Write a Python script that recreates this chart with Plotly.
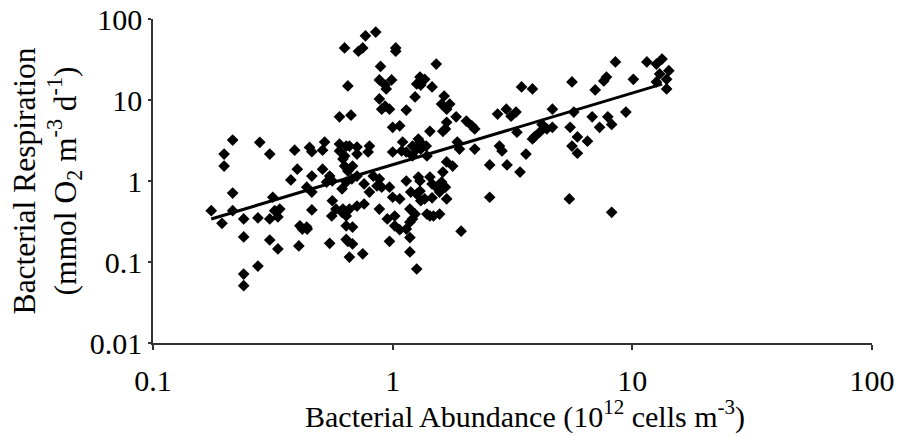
import plotly.graph_objects as go

# Bacterial abundance (10^12 cells m^-3)
abundance = [
    0.175, 0.194, 0.198, 0.198, 0.215, 0.215, 0.215, 0.239, 0.239, 0.239, 0.239,
    0.274, 0.274, 0.279, 0.307, 0.307, 0.307, 0.316, 0.322, 0.332, 0.338, 0.332,
    0.376, 0.39, 0.40, 0.406, 0.42, 0.44, 0.438, 0.41, 0.438, 0.45, 0.46, 0.46,
    0.46, 0.46, 0.51, 0.52, 0.51, 0.53, 0.546, 0.56, 0.56, 0.58, 0.546, 0.557,
    0.60, 0.60, 0.60, 0.62, 0.62, 0.615, 0.615, 0.63, 0.63, 0.63, 0.64, 0.64,
    0.64, 0.64, 0.64, 0.65, 0.65, 0.65, 0.67, 0.66, 0.66, 0.66, 0.675, 0.68,
    0.68, 0.68, 0.71, 0.71, 0.71, 0.71, 0.72, 0.75, 0.75, 0.76, 0.76, 0.77,
    0.79, 0.80, 0.80, 0.83, 0.85, 0.86, 0.88, 0.88, 0.88, 0.88, 0.89, 0.90,
    0.90, 0.93, 0.93, 0.94, 0.95, 0.97, 0.97, 0.97, 0.99, 1.0, 1.0, 1.0, 1.02,
    1.02, 1.03, 1.03, 1.07, 1.07, 1.07, 1.09, 1.10, 1.14, 1.14, 1.14, 1.14,
    1.18, 1.18, 1.18, 1.18, 1.19, 1.21, 1.21, 1.21, 1.24, 1.24, 1.26, 1.26,
    1.26, 1.26, 1.28, 1.28, 1.30, 1.30, 1.30, 1.30, 1.31, 1.31, 1.31, 1.36,
    1.36, 1.38, 1.39, 1.39, 1.43, 1.43, 1.46, 1.43, 1.46, 1.46, 1.48, 1.52,
    1.52, 1.57, 1.57, 1.6, 1.6, 1.62, 1.62, 1.64, 1.66, 1.66, 1.68, 1.68, 1.68,
    1.73, 1.68, 1.78, 1.84, 1.86, 1.9, 1.93, 2.03, 2.14, 2.2, 2.2, 2.54, 2.54,
    2.74, 2.79, 2.86, 2.98, 3.0, 3.12, 3.27, 3.3, 3.4, 3.45, 3.6, 3.83, 3.83,
    3.9, 4.1, 4.2, 4.4, 4.64, 4.64, 5.46, 5.5, 5.6, 5.6, 5.7, 5.9, 5.9, 6.5,
    6.8, 7.0, 7.3, 7.6, 7.8, 7.9, 8.2, 8.2, 8.5, 9.4, 10.1, 11.5, 12.6, 13.3,
    13.0, 13.9, 14.2, 13.9, 12.6,
]

# Bacterial respiration (mmol O2 m^-3 d^-1)
respiration = [
    0.43, 0.30, 2.15, 1.53, 3.2, 0.71, 0.43, 0.34, 0.204, 0.071, 0.051,
    0.35, 0.089, 3.0, 2.15, 0.34, 0.187, 0.63, 0.43, 0.36, 0.45, 0.145,
    1.03, 2.4, 1.4, 0.158, 0.255, 0.255, 0.84, 0.28, 0.27, 2.6, 2.3, 1.15,
    0.73, 0.44, 1.4, 3.03, 2.4, 0.97, 1.15, 1.0, 0.57, 0.45, 0.17, 0.37,
    2.86, 2.35, 6.2, 1.87, 0.45, 0.80, 0.41, 44, 1.53, 2.04, 2.7, 0.97,
    0.37, 0.28, 0.19, 14.9, 1.33, 0.18, 6.5, 2.7, 0.45, 0.115, 1.06, 1.53,
    0.27, 0.167, 2.15, 0.49, 2.63, 1.15, 40, 44, 0.126, 0.92, 0.52, 62,
    2.28, 2.7, 0.73, 1.15, 69, 0.87, 17.7, 10.3, 1.06, 0.45, 26, 0.84,
    7.7, 15.3, 8.4, 13.7, 0.34, 7.7, 0.84, 0.18, 17.7, 4.6, 2.28, 0.63, 0.37,
    0.28, 44, 40, 4.8, 0.60, 0.25, 2.35, 3.03, 7.5, 2.28, 1.0, 0.255,
    0.45, 0.31, 0.2, 0.133, 0.73, 2.7, 2.04, 0.34, 10.9, 0.39, 15.8, 2.48,
    0.69, 0.082, 3.3, 1.12, 19.2, 3.03, 1.0, 0.75, 15.3, 2.48, 0.57, 18,
    0.60, 2.7, 2.04, 0.39, 4.1, 1.12, 0.62, 0.37, 0.92, 14.5, 0.37, 27.8,
    0.84, 0.73, 0.39, 8.9, 0.97, 4.1, 1.29, 11.2, 4.4, 0.84, 5.3, 1.72, 0.6,
    8.9, 7.7, 1.53, 6.2, 3.03, 2.48, 0.24, 5.5, 4.8, 4.4, 2.48, 1.58, 0.63,
    6.7, 2.7, 2.35, 7.7, 1.58, 6.3, 7.1, 4.0, 1.29, 14.5, 2.15, 13.7, 3.3,
    3.5, 4.0, 5.0, 4.4, 7.7, 4.6, 0.6, 4.6, 16.7, 2.7, 7.1, 3.5, 2.2, 3.1,
    6.2, 13.3, 4.6, 17.2, 19.2, 6.2, 5.0, 0.41, 29.5, 7.1, 18, 29.5, 27.8, 32,
    21, 18, 23, 13.7, 16.7,
]

# Power-law trend line end points
trend_x = [0.175, 13.3]
trend_y = [0.34, 15.7]

x_ticks = [0.1, 1, 10, 100]
x_ticktext = ["0.1", "1", "10", "100"]
y_ticks = [0.01, 0.1, 1, 10, 100]
y_ticktext = ["0.01", "0.1", "1", "10", "100"]

FONT = "Liberation Serif, Times New Roman, serif"

fig = go.Figure()
fig.add_trace(go.Scatter(
    x=abundance, y=respiration, mode="markers",
    marker=dict(symbol="diamond", size=9, color="black", line=dict(width=0)),
    showlegend=False,
))
fig.add_trace(go.Scatter(
    x=trend_x, y=trend_y, mode="lines",
    line=dict(color="black", width=3),
    showlegend=False,
))

fig.update_layout(
    width=907, height=446,
    margin=dict(l=153, r=35, t=19, b=103),
    paper_bgcolor="white", plot_bgcolor="white",
    font=dict(family=FONT, size=30, color="black"),
    xaxis=dict(
        type="log", range=[-1, 2],
        tickvals=x_ticks, ticktext=x_ticktext,
        showgrid=False, zeroline=False,
        showline=True, linecolor="#333333", linewidth=1.5,
        ticks="outside", ticklen=5, tickcolor="#333333", tickwidth=1.5,
        ticklabelstandoff=5,
        tickfont=dict(family=FONT, size=30, color="black"),
        automargin=False,
    ),
    yaxis=dict(
        type="log", range=[-2, 2],
        tickvals=y_ticks, ticktext=y_ticktext,
        showgrid=False, zeroline=False,
        showline=True, linecolor="#333333", linewidth=1.5,
        ticks="outside", ticklen=3, tickcolor="#333333", tickwidth=1.5,
        tickfont=dict(family=FONT, size=30, color="black"),
        title=dict(text="Bacterial Respiration<br>(mmol O<sub>2</sub> m<sup>-3</sup> d<sup>-1</sup>)",
                   font=dict(family=FONT, size=31.5, color="black"), standoff=4),
        automargin=False,
    ),
    annotations=[dict(
        text="Bacterial Abundance (10<sup>12</sup> cells m<sup>-3</sup>)",
        xref="paper", yref="paper", x=0.517, y=-0.222,
        xanchor="center", yanchor="middle", showarrow=False,
        font=dict(family=FONT, size=30, color="black"),
    )],
)

fig.write_html("out.html")
